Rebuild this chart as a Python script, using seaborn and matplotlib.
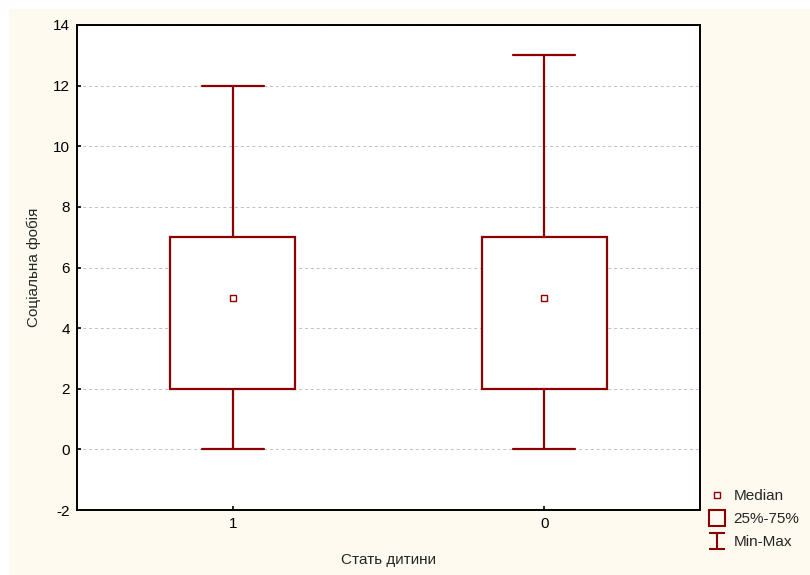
import pandas as pd
import numpy as np
import matplotlib
matplotlib.use("Agg")
import matplotlib.pyplot as plt
from matplotlib.lines import Line2D
from matplotlib.path import Path
from matplotlib.patches import Rectangle
import seaborn as sns

# summary values
groups = ['1', '0']
mins = [0, 0]
q1 = [2, 2]
medians = [5, 5]
q3 = [7, 7]
maxs = [12, 13]

# five points per group give exactly these quartiles (linear interpolation)
rows = []
for g, a, b, c, d, e in zip(groups, mins, q1, medians, q3, maxs):
    for v in (a, b, c, d, e):
        rows.append({'group': g, 'value': v})
df = pd.DataFrame(rows)

sns.set_style('ticks')
plt.rcParams['font.family'] = ['Liberation Sans', 'DejaVu Sans']
plt.rcParams['axes.unicode_minus'] = False

maroon = '#8b0000'
cream = '#fffaf0'

fig = plt.figure(figsize=(8.1, 5.75), dpi=100, facecolor='white')
fig.patches.append(Rectangle((9 / 810, 0), 1, 1 - 9 / 575, transform=fig.transFigure,
                             facecolor=cream, edgecolor='none', zorder=-10))
ax = fig.add_axes([77 / 810, 1 - 510 / 575, 623 / 810, 485 / 575])
ax.set_facecolor('white')
ax.set_axisbelow(True)

sns.boxplot(data=df, x='group', y='value', order=groups, whis=(0, 100), width=0.4,
            color='white', linecolor=maroon, linewidth=1.6,
            medianprops={'visible': False}, ax=ax)
sns.pointplot(data=df, x='group', y='value', order=groups, estimator='median',
              errorbar=None, linestyle='none', marker='s', markersize=5,
              markerfacecolor='white', markeredgecolor=maroon, markeredgewidth=1,
              color=maroon, ax=ax, zorder=5)

ax.set_ylim(-2, 14)
ax.set_yticks(range(-2, 15, 2))
ax.yaxis.grid(True, linestyle=(0, (3, 3)), color='#c0c0c0', linewidth=0.7)
ax.tick_params(direction='in', length=3, width=1.2, labelsize=11, colors='black', pad=5)
for s in ax.spines.values():
    s.set_visible(True)
    s.set_color('black')
    s.set_linewidth(1.4)

ax.set_xlabel('Стать дитини', fontsize=11, labelpad=16)
ax.set_ylabel('Соціальна фобія', fontsize=11, labelpad=9)

ibeam = Path([(-1, 1), (1, 1), (0, 1), (0, -1), (-1, -1), (1, -1)],
             [Path.MOVETO, Path.LINETO, Path.MOVETO, Path.LINETO, Path.MOVETO, Path.LINETO])
handles = [
    Line2D([], [], linestyle='none', marker='s', markersize=5, markerfacecolor='white',
           markeredgecolor=maroon, markeredgewidth=1),
    Line2D([], [], linestyle='none', marker='s', markersize=11, markerfacecolor='none',
           markeredgecolor=maroon, markeredgewidth=1.5),
    Line2D([], [], linestyle='none', marker=ibeam, markersize=12, markerfacecolor='none',
           markeredgecolor=maroon, markeredgewidth=1.5),
]
fig.legend(handles, ['Median', '25%-75%', 'Min-Max'], loc='upper left',
           bbox_to_anchor=(709 / 810, 1 - 489 / 575), frameon=False, fontsize=11,
           handlelength=1.0, handletextpad=0.6, labelspacing=0.6, borderaxespad=0,
           borderpad=0)

fig.savefig('out.png', dpi=100, facecolor=fig.get_facecolor())
